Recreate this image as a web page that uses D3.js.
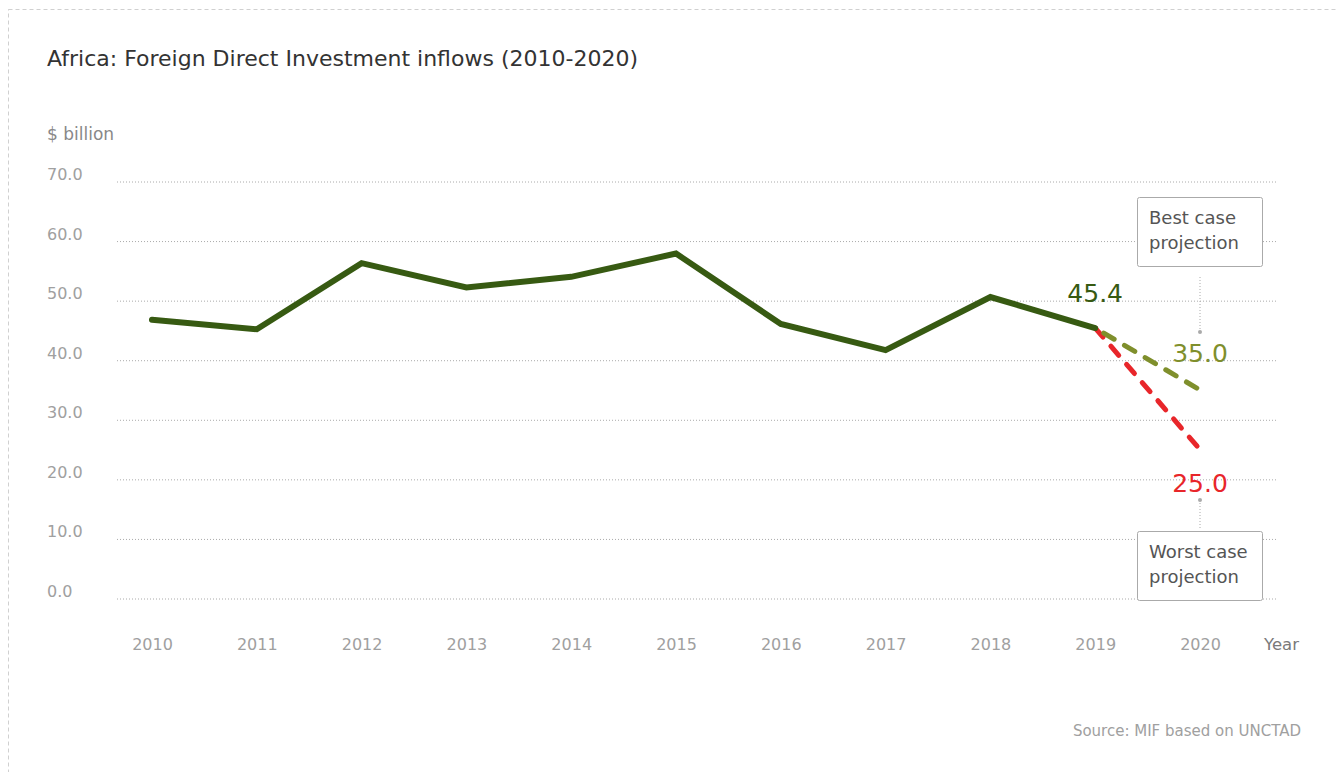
<!DOCTYPE html>
<html>
<head>
<meta charset="utf-8">
<script src="https://cdn.jsdelivr.net/npm/d3@7"></script>
<style>
  html, body { margin: 0; padding: 0; background: #fff; }
  svg { display: block; font-family: "DejaVu Sans", "Open Sans", sans-serif; }
</style>
</head>
<body>
<svg id="chart" width="1338" height="772"></svg>
<script>
// FDI inflows to Africa, $ billion
const years = [2010, 2011, 2012, 2013, 2014, 2015, 2016, 2017, 2018, 2019, 2020];
const actualYears = [2010, 2011, 2012, 2013, 2014, 2015, 2016, 2017, 2018, 2019];
const actualValues = [46.8, 45.2, 56.3, 52.2, 54.0, 57.9, 46.1, 41.7, 50.6, 45.4];
const bestCaseYears = [2019, 2020];
const bestCaseValues = [45.4, 35.0];
const worstCaseYears = [2019, 2020];
const worstCaseValues = [45.4, 25.0];
const yTicks = [0, 10, 20, 30, 40, 50, 60, 70];

const svg = d3.select("#chart");

// dashed frame around the card
svg.append("rect")
  .attr("x", 8.5).attr("y", 9.5)
  .attr("width", 1400).attr("height", 900)
  .attr("fill", "none")
  .attr("stroke", "#d0d0d0")
  .attr("stroke-width", 1)
  .attr("stroke-dasharray", "4,3");

const x = d3.scalePoint().domain(years).range([152, 1200]);
const y = d3.scaleLinear().domain([0, 70]).range([598.5, 181.5]);

// title and unit
svg.append("text")
  .attr("x", 47).attr("y", 65.5)
  .attr("font-size", 22).attr("fill", "#333")
  .text("Africa: Foreign Direct Investment inflows (2010-2020)");

svg.append("text")
  .attr("x", 47).attr("y", 139.5)
  .attr("font-size", 17).attr("fill", "#888")
  .text("$ billion");

// horizontal grid
const grid = svg.append("g")
  .attr("transform", "translate(117,0)")
  .call(d3.axisLeft(y).tickValues(yTicks).tickSize(-1160).tickFormat(""));
grid.select(".domain").remove();
grid.selectAll(".tick line")
  .attr("stroke", "#aaa")
  .attr("stroke-width", 1)
  .attr("stroke-dasharray", "1,2");

// y tick labels
svg.append("g").selectAll("text")
  .data(yTicks)
  .join("text")
  .attr("x", 47)
  .attr("y", d => y(d) - 1.5)
  .attr("font-size", 16).attr("fill", "#a0a0a0")
  .text(d => d3.format(".1f")(d));

// x axis labels
const xAxis = svg.append("g")
  .attr("transform", "translate(0,638.5)")
  .call(d3.axisBottom(x).tickSize(0).tickPadding(0).tickFormat(d => String(d)));
xAxis.select(".domain").remove();
xAxis.selectAll("text")
  .attr("font-size", 16).attr("fill", "#a0a0a0")
  .attr("font-family", "'DejaVu Sans', 'Open Sans', sans-serif");

svg.append("text")
  .attr("x", 1264).attr("y", 650)
  .attr("font-size", 16.5).attr("fill", "#7a7a7a")
  .text("Year");

const line = d3.line().x(d => x(d[0])).y(d => y(d[1]));

// projections
svg.append("path")
  .datum(worstCaseYears.map((yr, i) => [yr, worstCaseValues[i]]))
  .attr("d", line)
  .attr("fill", "none")
  .attr("stroke", "#e8262a")
  .attr("stroke-width", 5)
  .attr("stroke-linecap", "round")
  .attr("stroke-dasharray", "12,12");

svg.append("path")
  .datum(bestCaseYears.map((yr, i) => [yr, bestCaseValues[i]]))
  .attr("d", line)
  .attr("fill", "none")
  .attr("stroke", "#7f8f2c")
  .attr("stroke-width", 5)
  .attr("stroke-linecap", "round")
  .attr("stroke-dasharray", "12,12")
  .attr("stroke-dashoffset", -10);

// actual inflows
svg.append("path")
  .datum(actualYears.map((yr, i) => [yr, actualValues[i]]))
  .attr("d", line)
  .attr("fill", "none")
  .attr("stroke", "#375a12")
  .attr("stroke-width", 6)
  .attr("stroke-linecap", "round")
  .attr("stroke-linejoin", "miter");

// value labels
const last = actualValues.length - 1;
svg.append("text")
  .attr("x", x(actualYears[last])).attr("y", y(actualValues[last]) - 26)
  .attr("text-anchor", "middle")
  .attr("font-size", 25).attr("fill", "#375a12")
  .text(d3.format(".1f")(actualValues[last]));

svg.append("text")
  .attr("x", x(2020)).attr("y", y(bestCaseValues[1]) - 28.5)
  .attr("text-anchor", "middle")
  .attr("font-size", 25).attr("fill", "#7f8f2c")
  .text(d3.format(".1f")(bestCaseValues[1]));

svg.append("text")
  .attr("x", x(2020)).attr("y", y(worstCaseValues[1]) + 42)
  .attr("text-anchor", "middle")
  .attr("font-size", 25).attr("fill", "#e8262a")
  .text(d3.format(".1f")(worstCaseValues[1]));

// annotation callouts
function callout(cx, boxTop, lines, connTop, connBottom, dotY) {
  svg.append("line")
    .attr("x1", cx).attr("x2", cx)
    .attr("y1", connTop).attr("y2", connBottom)
    .attr("stroke", "#aaa").attr("stroke-width", 1)
    .attr("stroke-dasharray", "1,2");
  svg.append("circle")
    .attr("cx", cx).attr("cy", dotY).attr("r", 2)
    .attr("fill", "#aaa");
  svg.append("rect")
    .attr("x", 1137.5).attr("y", boxTop + 0.5)
    .attr("width", 125).attr("height", 69)
    .attr("rx", 2)
    .attr("fill", "#fff")
    .attr("stroke", "#aaa").attr("stroke-width", 1);
  svg.append("text")
    .attr("font-size", 18).attr("fill", "#555")
    .selectAll("tspan")
    .data(lines)
    .join("tspan")
    .attr("x", 1149)
    .attr("y", (d, i) => boxTop + 27 + i * 25)
    .text(d => d);
}

callout(x(2020), 197, ["Best case", "projection"], 277, 332, 332);
callout(x(2020), 531, ["Worst case", "projection"], 500, 530, 500);

// source note
svg.append("text")
  .attr("x", 1301).attr("y", 736)
  .attr("text-anchor", "end")
  .attr("font-size", 15).attr("fill", "#a0a0a0")
  .text("Source: MIF based on UNCTAD");
</script>
</body>
</html>
